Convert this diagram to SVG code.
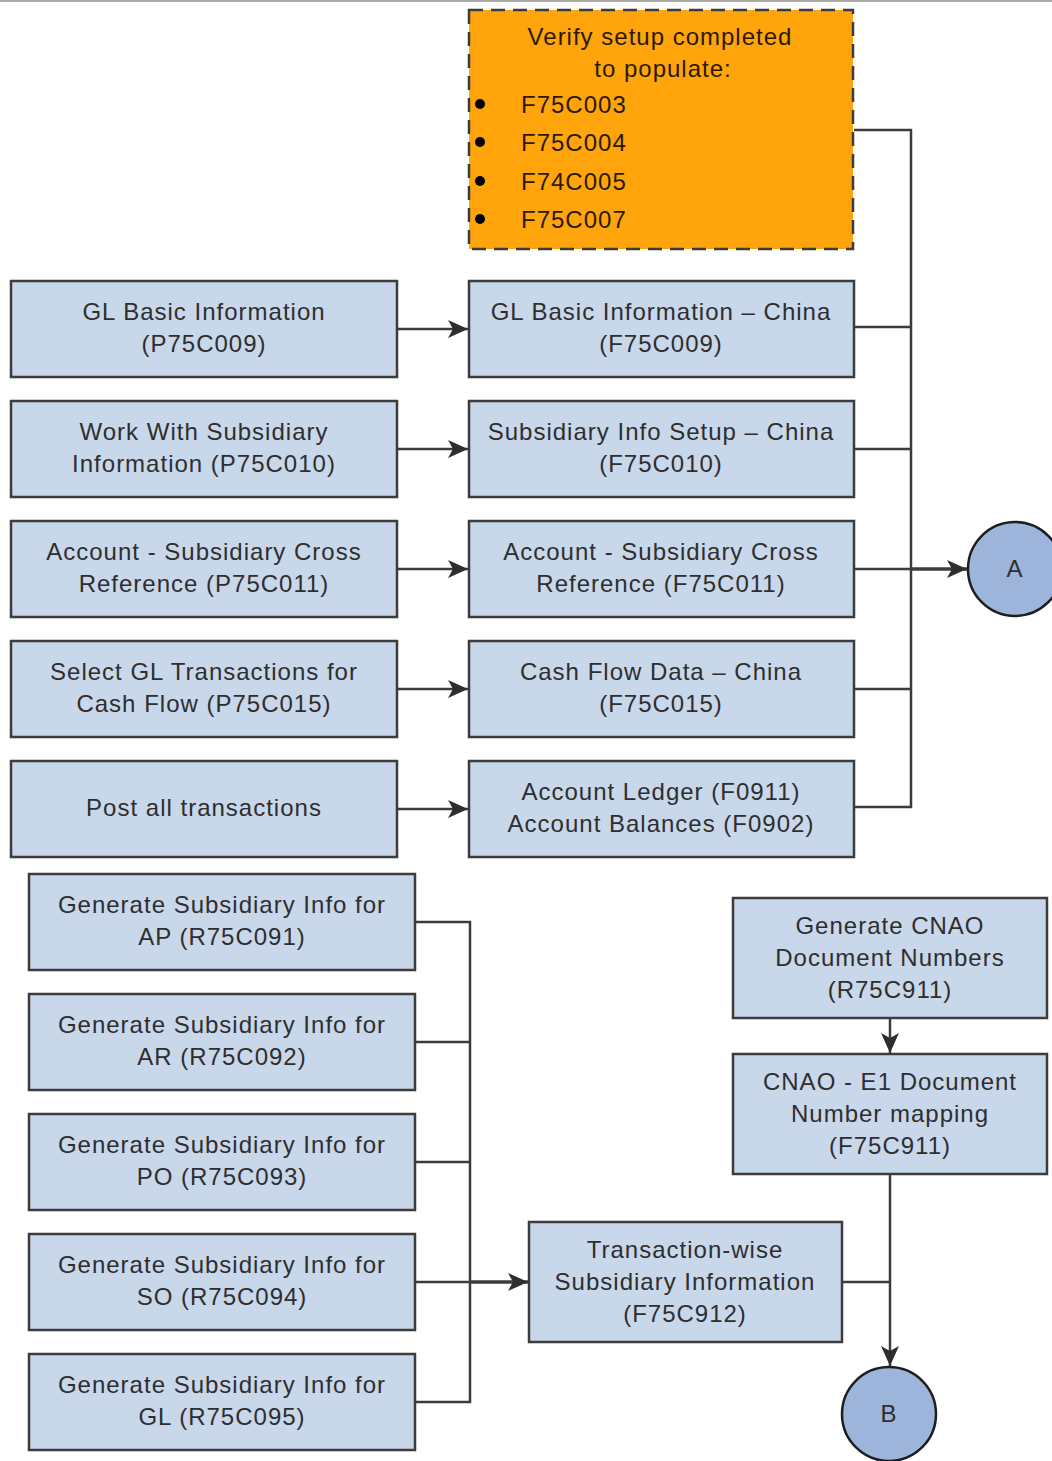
<svg xmlns="http://www.w3.org/2000/svg" width="1052" height="1461" viewBox="0 0 1052 1461">
  <style>
    .box { fill: #c9d7eb; stroke: #3c3c3c; stroke-width: 2.5; }
    .note { fill: #ffa40b; stroke: #3c3c3c; stroke-width: 2.5; stroke-dasharray: 14 8; }
    .circ { fill: #9eb5db; stroke: #1e1e1e; stroke-width: 2.5; }
    .t { font-family: "Liberation Sans", Arial, sans-serif; font-size: 24px; letter-spacing: 1px; fill: #2e2e2e; text-anchor: middle; }
    .tl { font-family: "Liberation Sans", Arial, sans-serif; font-size: 24px; letter-spacing: 1px; fill: #2a1a00; }
    .tn { font-family: "Liberation Sans", Arial, sans-serif; font-size: 24px; letter-spacing: 1px; fill: #2a1a00; text-anchor: middle; }
    .ln { fill: none; stroke: #3c3c3c; stroke-width: 2.5; }
    .ar { fill: none; stroke: #3c3c3c; stroke-width: 2.5; marker-end: url(#arrow); }
  </style>
  <defs>
    <marker id="arrow" markerUnits="userSpaceOnUse" markerWidth="22" markerHeight="22" viewBox="0 0 22 22" refX="20" refY="11" orient="auto">
      <path d="M0,2 L20,11 L0,20 L5,11 Z" fill="#2e2e2e"/>
    </marker>
  </defs>

  <rect x="0" y="0" width="1052" height="1461" fill="#fff"/>
  <rect x="0" y="0" width="1052" height="2" fill="#aaa"/>

  <!-- connectors -->
  <g id="connectors">
    <polyline class="ln" points="854,130 911,130 911,807 854,807"/>
    <line class="ln" x1="854" y1="327" x2="911" y2="327"/>
    <line class="ln" x1="854" y1="449" x2="911" y2="449"/>
    <line class="ln" x1="854" y1="569" x2="911" y2="569"/>
    <line class="ln" x1="854" y1="689" x2="911" y2="689"/>
    <line class="ar" x1="911" y1="569" x2="967" y2="569" style="stroke-width:3.5"/>
    <line class="ar" x1="397" y1="329" x2="468" y2="329"/>
    <line class="ar" x1="397" y1="449" x2="468" y2="449"/>
    <line class="ar" x1="397" y1="569" x2="468" y2="569"/>
    <line class="ar" x1="397" y1="689" x2="468" y2="689"/>
    <line class="ar" x1="397" y1="809" x2="468" y2="809"/>
    <polyline class="ln" points="415,922 470,922 470,1402 415,1402"/>
    <line class="ln" x1="415" y1="1042" x2="470" y2="1042"/>
    <line class="ln" x1="415" y1="1162" x2="470" y2="1162"/>
    <line class="ln" x1="415" y1="1282" x2="470" y2="1282"/>
    <line class="ar" x1="470" y1="1282" x2="528" y2="1282" style="stroke-width:3.5"/>
    <line class="ar" x1="890" y1="1018" x2="890" y2="1053"/>
    <line class="ar" x1="890" y1="1174" x2="890" y2="1366"/>
    <line class="ln" x1="842" y1="1282" x2="890" y2="1282"/>
  </g>

  <g id="verify-setup">
    <rect class="note" x="469" y="10" width="384" height="239"/>
    <text class="tn" x="660" y="45">Verify setup completed</text>
    <text class="tn" x="663" y="77">to populate:</text>
    <circle cx="480" cy="104" r="5" fill="#000"/>
    <circle cx="480" cy="142" r="5" fill="#000"/>
    <circle cx="480" cy="181" r="5" fill="#000"/>
    <circle cx="480" cy="219" r="5" fill="#000"/>
    <text class="tl" x="521" y="113">F75C003</text>
    <text class="tl" x="521" y="151">F75C004</text>
    <text class="tl" x="521" y="190">F74C005</text>
    <text class="tl" x="521" y="228">F75C007</text>
  </g>

  <g id="p75c009">
    <rect class="box" x="11" y="281" width="386" height="96"/>
    <text class="t" x="204" y="320">GL Basic Information</text>
    <text class="t" x="204" y="352">(P75C009)</text>
  </g>
  <g id="f75c009">
    <rect class="box" x="469" y="281" width="385" height="96"/>
    <text class="t" x="661" y="320">GL Basic Information – China</text>
    <text class="t" x="661" y="352">(F75C009)</text>
  </g>

  <g id="p75c010">
    <rect class="box" x="11" y="401" width="386" height="96"/>
    <text class="t" x="204" y="440">Work With Subsidiary</text>
    <text class="t" x="204" y="472">Information (P75C010)</text>
  </g>
  <g id="f75c010">
    <rect class="box" x="469" y="401" width="385" height="96"/>
    <text class="t" x="661" y="440">Subsidiary Info Setup – China</text>
    <text class="t" x="661" y="472">(F75C010)</text>
  </g>

  <g id="p75c011">
    <rect class="box" x="11" y="521" width="386" height="96"/>
    <text class="t" x="204" y="560">Account - Subsidiary Cross</text>
    <text class="t" x="204" y="592">Reference (P75C011)</text>
  </g>
  <g id="f75c011">
    <rect class="box" x="469" y="521" width="385" height="96"/>
    <text class="t" x="661" y="560">Account - Subsidiary Cross</text>
    <text class="t" x="661" y="592">Reference (F75C011)</text>
  </g>

  <g id="p75c015">
    <rect class="box" x="11" y="641" width="386" height="96"/>
    <text class="t" x="204" y="680">Select GL Transactions for</text>
    <text class="t" x="204" y="712">Cash Flow (P75C015)</text>
  </g>
  <g id="f75c015">
    <rect class="box" x="469" y="641" width="385" height="96"/>
    <text class="t" x="661" y="680">Cash Flow Data – China</text>
    <text class="t" x="661" y="712">(F75C015)</text>
  </g>

  <g id="post-all">
    <rect class="box" x="11" y="761" width="386" height="96"/>
    <text class="t" x="204" y="816">Post all transactions</text>
  </g>
  <g id="f0911-f0902">
    <rect class="box" x="469" y="761" width="385" height="96"/>
    <text class="t" x="661" y="800">Account Ledger (F0911)</text>
    <text class="t" x="661" y="832">Account Balances (F0902)</text>
  </g>

  <g id="connector-a">
    <circle class="circ" cx="1015" cy="569" r="47"/>
    <text class="t" x="1015" y="577">A</text>
  </g>

  <g id="r75c091">
    <rect class="box" x="29" y="874" width="386" height="96"/>
    <text class="t" x="222" y="913">Generate Subsidiary Info for</text>
    <text class="t" x="222" y="945">AP (R75C091)</text>
  </g>
  <g id="r75c092">
    <rect class="box" x="29" y="994" width="386" height="96"/>
    <text class="t" x="222" y="1033">Generate Subsidiary Info for</text>
    <text class="t" x="222" y="1065">AR (R75C092)</text>
  </g>
  <g id="r75c093">
    <rect class="box" x="29" y="1114" width="386" height="96"/>
    <text class="t" x="222" y="1153">Generate Subsidiary Info for</text>
    <text class="t" x="222" y="1185">PO (R75C093)</text>
  </g>
  <g id="r75c094">
    <rect class="box" x="29" y="1234" width="386" height="96"/>
    <text class="t" x="222" y="1273">Generate Subsidiary Info for</text>
    <text class="t" x="222" y="1305">SO (R75C094)</text>
  </g>
  <g id="r75c095">
    <rect class="box" x="29" y="1354" width="386" height="96"/>
    <text class="t" x="222" y="1393">Generate Subsidiary Info for</text>
    <text class="t" x="222" y="1425">GL (R75C095)</text>
  </g>

  <g id="f75c912">
    <rect class="box" x="529" y="1222" width="313" height="120"/>
    <text class="t" x="685" y="1258">Transaction-wise</text>
    <text class="t" x="685" y="1290">Subsidiary Information</text>
    <text class="t" x="685" y="1322">(F75C912)</text>
  </g>

  <g id="r75c911">
    <rect class="box" x="733" y="898" width="314" height="120"/>
    <text class="t" x="890" y="934">Generate CNAO</text>
    <text class="t" x="890" y="966">Document Numbers</text>
    <text class="t" x="890" y="998">(R75C911)</text>
  </g>
  <g id="f75c911">
    <rect class="box" x="733" y="1054" width="314" height="120"/>
    <text class="t" x="890" y="1090">CNAO - E1 Document</text>
    <text class="t" x="890" y="1122">Number mapping</text>
    <text class="t" x="890" y="1154">(F75C911)</text>
  </g>

  <g id="connector-b">
    <circle class="circ" cx="889" cy="1414" r="47"/>
    <text class="t" x="889" y="1422">B</text>
  </g>
</svg>
